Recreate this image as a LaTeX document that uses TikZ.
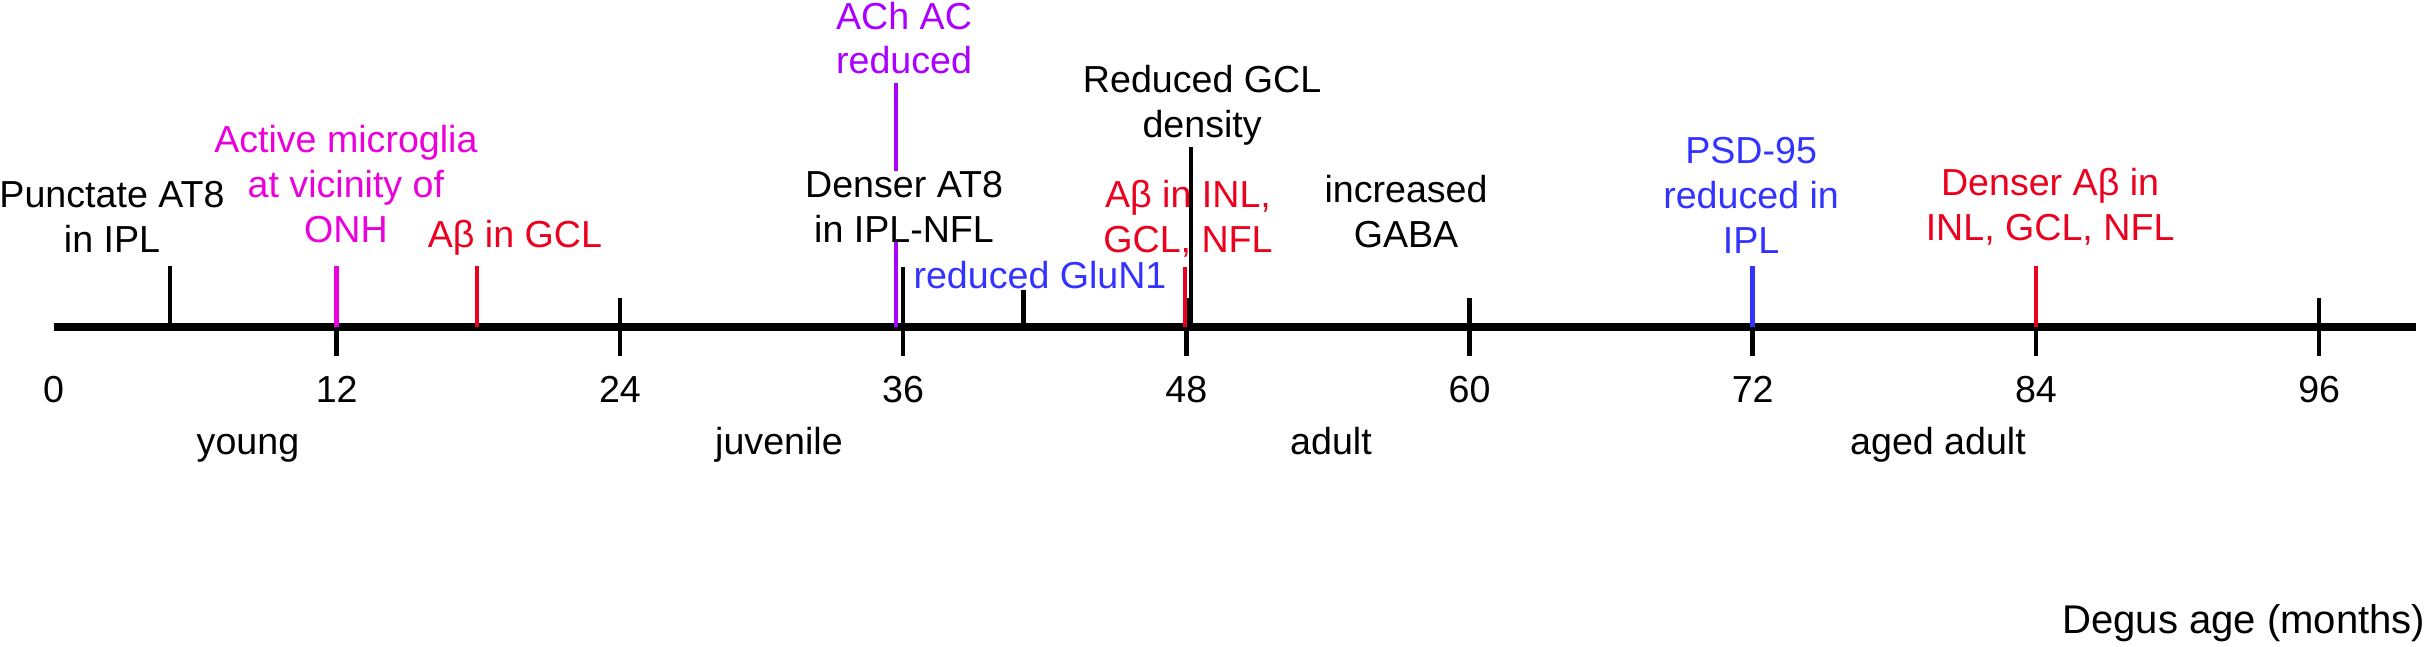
\documentclass[tikz,border=0pt]{standalone}
\usepackage{fontspec}
\setmainfont{Liberation Sans}
\definecolor{mag}{RGB}{235,0,220}
\definecolor{pur}{RGB}{170,0,255}
\definecolor{blu}{RGB}{51,51,255}
\definecolor{rd}{RGB}{235,0,30}
\begin{document}
\begin{tikzpicture}[x=2.36mm,y=0.1mm,
  lbl/.style={font=\fontsize{10.7}{12.8}\selectfont,align=center,anchor=base,inner sep=0pt},
  mtick/.style={line width=1.3pt},
  evt/.style={line width=1.3pt}]
\useasboundingbox (-2.267,-319) rectangle (100.74,327);
% axis
\coordinate (a0) at (0,0);
\coordinate (aend) at (100.1,0);
\draw[line width=2.5pt] (a0) -- (aend);
\draw[mtick] (12,29) -- (12,-29);
\draw[mtick] (24,29) -- (24,-29);
\draw[mtick] (36,29) -- (36,-29);
\draw[mtick] (48,29) -- (48,-29);
\draw[mtick] (60,29) -- (60,-29);
\draw[mtick] (72,29) -- (72,-29);
\draw[mtick] (84,29) -- (84,-29);
\draw[mtick] (96,29) -- (96,-29);
\node[lbl] (n0) at (0,-75) {0};
\node[lbl] (n12) at (12,-75) {12};
\node[lbl] (n24) at (24,-75) {24};
\node[lbl] (n36) at (36,-75) {36};
\node[lbl] (n48) at (48,-75) {48};
\node[lbl] (n60) at (60,-75) {60};
\node[lbl] (n72) at (72,-75) {72};
\node[lbl] (n84) at (84,-75) {84};
\node[lbl] (n96) at (96,-75) {96};
% event marks
\coordinate (p5) at (4.94,0);   \coordinate (q5) at (4.94,61);
\coordinate (p12) at (12,0);    \coordinate (q12) at (12,61);
\coordinate (p18) at (17.94,0); \coordinate (q18) at (17.94,61);
\coordinate (p35) at (35.7,0);  \coordinate (q35) at (35.7,244);
\coordinate (p36) at (36,0);    \coordinate (q36) at (36,60);
\coordinate (p41) at (41.1,0);  \coordinate (q41) at (41.1,37);
\coordinate (p47) at (47.94,0); \coordinate (q47) at (47.94,60);
\coordinate (p48) at (48.2,0);  \coordinate (q48) at (48.2,180);
\coordinate (p72) at (72,0);    \coordinate (q72) at (72,61);
\coordinate (p84) at (84,0);    \coordinate (q84) at (84,61);
\draw[evt] (p5) -- (q5);
\draw[evt,mag] (p12) -- (q12);
\draw[evt,rd] (p18) -- (q18);
\draw[evt,pur] (p35) -- (q35);
\draw[evt] (p36) -- (q36);
\draw[evt] (p41) -- (q41);
\draw[evt,rd] (p47) -- (q47);
\draw[evt] (p48) -- (q48);
\draw[evt,blu] (p72) -- (q72);
\draw[evt,rd] (p84) -- (q84);
% labels
\node[lbl] (punct) at (2.48,75) {Punctate AT8\\in IPL};
\node[lbl,text=mag] (micro) at (12.39,85) {Active microglia\\at vicinity of\\ONH};
\node[lbl,text=rd] (abgcl) at (19.55,80) {Aβ in GCL};
\node[lbl,text=pur] (ach) at (36.04,253) {ACh AC\\reduced};
\node[lbl,fill=white] (denser) at (36.04,85) {Denser AT8\\in IPL-NFL};
\node[lbl,text=blu] (gluna) at (41.8,39) {reduced GluN1};
\node[lbl,text=rd] (abinl) at (48.07,75) {Aβ in INL,\\GCL, NFL};
\node[lbl] (gcl) at (48.67,190) {Reduced GCL\\density};
\node[lbl] (gaba) at (57.31,80) {increased\\GABA};
\node[lbl,text=blu] (psd) at (71.93,74) {PSD-95\\reduced in\\IPL};
\node[lbl,text=rd] (denseab) at (84.6,87) {Denser Aβ in\\INL, GCL, NFL};
% stages
\node[lbl] (young) at (8.24,-127) {young};
\node[lbl] (juv) at (30.74,-127) {juvenile};
\node[lbl] (adult) at (54.13,-127) {adult};
\node[lbl] (aged) at (79.85,-127) {aged adult};
\node[lbl,font=\fontsize{11.4}{13.7}\selectfont,anchor=base east] (xlab) at (100.53,-306) {Degus age (months)};
\end{tikzpicture}
\end{document}
